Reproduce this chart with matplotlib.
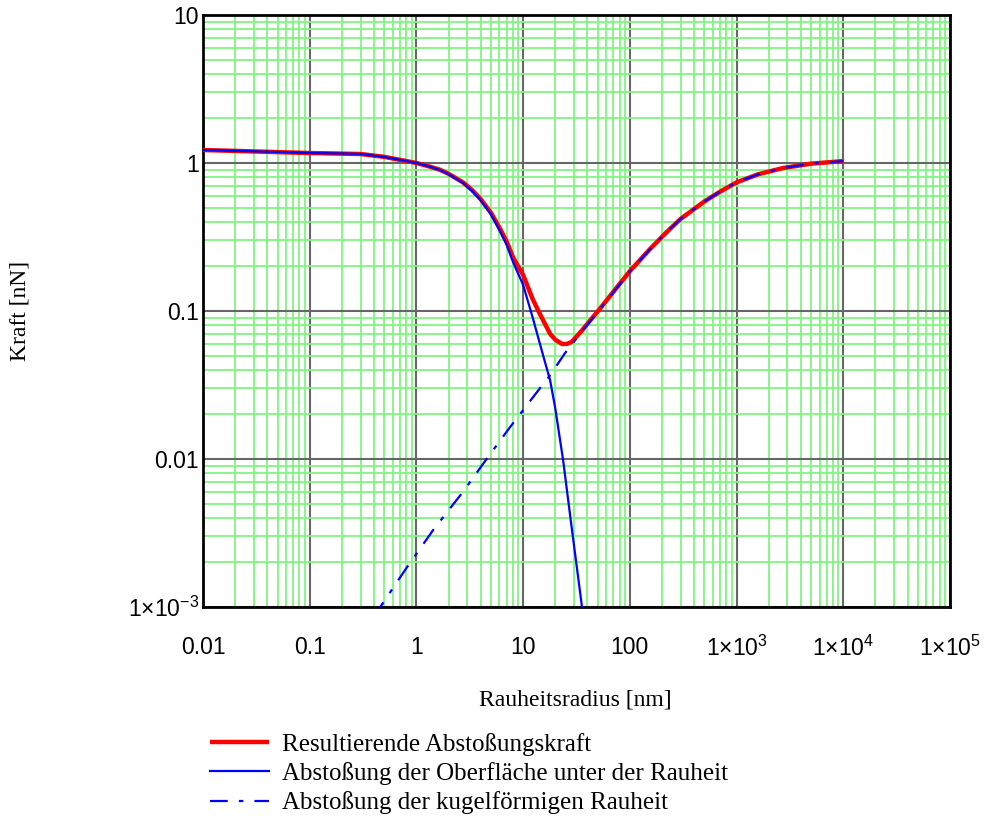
import matplotlib
matplotlib.use("Agg")
import matplotlib.pyplot as plt
from matplotlib.ticker import FixedLocator, FixedFormatter, NullFormatter
import numpy as np

# Abstossung der Oberflaeche unter der Rauheit
r_surf = [0.01, 0.03, 0.1, 0.2, 0.3, 0.5, 0.7, 1.0, 1.3, 1.66, 2.0, 2.73, 3.3, 4.0, 5.0, 6.07,
          7.0, 8.04, 10, 12.3, 15.4, 17.9, 20, 23.7, 28, 35.6, 40]
f_surf = [1.224, 1.20, 1.168, 1.16, 1.15, 1.098, 1.05, 1.0, 0.95, 0.897, 0.84, 0.733, 0.65,
          0.56, 0.45, 0.345, 0.28, 0.214, 0.15, 0.09, 0.05, 0.034, 0.022, 0.0098, 0.0038,
          0.001, 0.0005]

# Abstossung der kugelfoermigen Rauheit
r_sphere = [0.4, 0.458, 0.817, 1.43, 2.73, 4.59, 7.53, 12.9, 18, 24.7, 35.6, 52.6,
            100, 155, 220, 300, 500, 700, 1000, 1600, 2730, 5000, 1e4]
f_sphere = [0.00085, 0.001, 0.00186, 0.0033, 0.006, 0.0101, 0.0164, 0.0272, 0.037,
            0.052, 0.073, 0.103, 0.185, 0.262, 0.34, 0.42, 0.55, 0.64, 0.74, 0.84,
            0.925, 0.99, 1.03]

# Resultierende Kraft
r_total = [0.01, 0.1, 0.3, 0.5, 0.7, 1.0, 1.3, 1.66, 2.0, 2.73, 3.3, 4.0, 5.0, 6.07, 7.0,
           8.04, 10, 12.3, 14.4, 17.9, 20, 23.2, 26, 28.6, 35.6, 52.6, 100, 155, 220, 300,
           500, 700, 1000, 1600, 2730, 5000, 1e4]
f_total = [1.224, 1.168, 1.15, 1.10, 1.05, 1.0, 0.95, 0.90, 0.845, 0.74, 0.66, 0.57, 0.46,
           0.36, 0.295, 0.23, 0.175, 0.12, 0.095, 0.07, 0.064, 0.0598, 0.06, 0.062, 0.074,
           0.104, 0.186, 0.263, 0.34, 0.42, 0.55, 0.64, 0.74, 0.84, 0.925, 0.99, 1.03]

xticks = [0.01, 0.1, 1, 10, 100, 1e3, 1e4, 1e5]
xticklabels = ["0.01", "0.1", "1", "10", "100",
               r"$1{\times}10^{3}$", r"$1{\times}10^{4}$", r"$1{\times}10^{5}$"]
yticks = [1e-3, 0.01, 0.1, 1, 10]
yticklabels = [r"$1{\times}10^{-3}$", "0.01", "0.1", "1", "10"]

plt.rcParams['mathtext.fontset'] = 'custom'
plt.rcParams['mathtext.rm'] = 'Liberation Sans'
plt.rcParams['mathtext.it'] = 'Liberation Sans:italic'
plt.rcParams['mathtext.default'] = 'rm'

fig = plt.figure(figsize=(9.89, 8.21), dpi=100)
ax = fig.add_axes([203/989, 1-607/821, 747/989, 592/821])
ax.set_xscale('log')
ax.set_yscale('log')
ax.set_xlim(0.01, 1e5)
ax.set_ylim(1e-3, 10)

# grid: green minor lines, grey decade lines
minor_x = [m * 10.0**e for e in range(-2, 5) for m in range(2, 10)]
minor_y = [m * 10.0**e for e in range(-3, 1) for m in range(2, 10)]
ax.xaxis.set_minor_locator(FixedLocator(minor_x))
ax.yaxis.set_minor_locator(FixedLocator(minor_y))
ax.xaxis.set_minor_formatter(NullFormatter())
ax.yaxis.set_minor_formatter(NullFormatter())
ax.grid(True, which='minor', color='#80f480', lw=1.3, zorder=0)
ax.grid(True, which='major', color='#666666', lw=1.5, zorder=0)
ax.set_axisbelow(True)

ax.xaxis.set_major_locator(FixedLocator(xticks))
ax.xaxis.set_major_formatter(FixedFormatter(xticklabels))
ax.yaxis.set_major_locator(FixedLocator(yticks))
ax.yaxis.set_major_formatter(FixedFormatter(yticklabels))
ax.tick_params(which='both', length=0)
ax.tick_params(axis='x', pad=21)
ax.tick_params(axis='y', pad=3)
for lab in ax.get_xticklabels() + ax.get_yticklabels():
    lab.set_fontfamily('Liberation Sans')
    lab.set_fontsize(16.5)

for s in ax.spines.values():
    s.set_linewidth(2.0)
    s.set_color('black')

l1, = ax.plot(r_total, f_total, color='red', lw=3.2, solid_capstyle='butt', zorder=3)
l2, = ax.plot(r_surf, f_surf, color='blue', lw=1.6, zorder=4)
l3, = ax.plot(r_sphere, f_sphere, color='blue', lw=1.6, linestyle=(0, (8, 5, 2, 5)), zorder=4)

fig.text(575/989, 1-700/821, 'Rauheitsradius [nm]', family='Liberation Serif',
         fontsize=17, ha='center', va='center')
fig.text(20/989, 1-311/821, 'Kraft [nN]', family='Liberation Serif',
         fontsize=17, ha='center', va='center', rotation=90)

fig.legend([l1, l2, l3],
           ['Resultierende Abstoßungskraft',
            'Abstoßung der Oberfläche unter der Rauheit',
            'Abstoßung der kugelförmigen Rauheit'],
           loc='upper left', bbox_to_anchor=(210/989, 1-733/821), frameon=False,
           borderpad=0, borderaxespad=0,
           handlelength=2.36, handletextpad=0.5, labelspacing=0.25,
           prop={'family': 'Liberation Serif', 'size': 18})

fig.savefig('out.png', dpi=100)
